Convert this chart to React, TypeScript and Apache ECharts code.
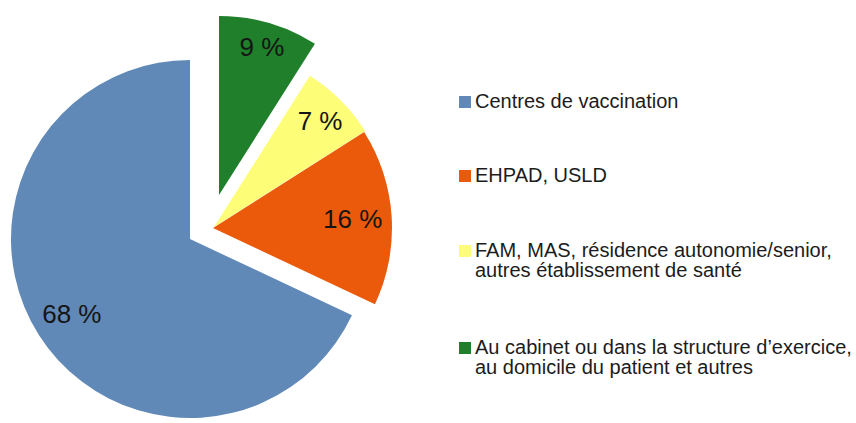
import { useEffect, useRef } from "react";
import * as echarts from "echarts";

// ---- data ----
const categories = [
  "Centres de vaccination",
  "EHPAD, USLD",
  "FAM, MAS, résidence autonomie/senior,\nautres établissement de santé",
  "Au cabinet ou dans la structure d’exercice,\nau domicile du patient et autres",
];
const shares = [68, 16, 7, 9];

// ---- styles / layout ----
const colors = ["#6189b7", "#eb5a0b", "#fdfd78", "#1f7f2a"];
const sliceCenters: [number, number][] = [
  [190, 239],
  [213, 228],
  [214, 227],
  [219, 195],
];
const labelRadius = [137, 137, 147, 151];
const R = 179;
const legendBaselines = [107, 181, 256, 353];
const FONT = '"Liberation Sans", Arial, sans-serif';

export default function App() {
  const ref = useRef<HTMLDivElement>(null);
  useEffect(() => {
    if (!ref.current) return;
    const chart = echarts.init(ref.current, undefined, { renderer: "svg" });

    const series: any[] = [];
    shares.forEach((_, i) => {
      const common = {
        type: "pie",
        center: sliceCenters[i],
        startAngle: 90,
        clockwise: false,
        silent: true,
        avoidLabelOverlap: false,
        minAngle: 0,
        emphasis: { disabled: true },
        labelLine: { show: false },
      };
      series.push({
        ...common,
        radius: [0, R],
        label: { show: false },
        itemStyle: { borderWidth: 0 },
        data: shares.map((v, j) => ({
          value: v,
          name: categories[j],
          itemStyle: { color: j === i ? colors[i] : "transparent", borderWidth: 0 },
        })),
      });
      series.push({
        ...common,
        radius: [2 * labelRadius[i] - R, R],
        itemStyle: { borderWidth: 0, color: "transparent" },
        data: shares.map((v, j) => ({
          value: v,
          name: categories[j],
          itemStyle: { color: "transparent", borderWidth: 0 },
          label: {
            show: j === i,
            position: "inside",
            formatter: "{c} %",
            color: "#151515",
            fontSize: 26,
            fontFamily: FONT,
          },
        })),
      });
    });

    const graphic: any[] = [];
    categories.forEach((name, i) => {
      const b = legendBaselines[i];
      graphic.push({
        type: "rect",
        shape: { x: 459, y: b - 11, width: 12, height: 12 },
        style: { fill: colors[i] },
        silent: true,
      });
      graphic.push({
        type: "text",
        x: 475,
        y: b - 16.2,
        style: {
          text: name,
          fill: "#1c1c1c",
          font: `20px ${FONT}`,
          lineHeight: 20,
          verticalAlign: "top",
          align: "left",
        },
        silent: true,
      });
    });

    chart.setOption({
      animation: false,
      backgroundColor: "#ffffff",
      series,
      graphic,
    });
    return () => chart.dispose();
  }, []);

  return (
    <div
      ref={ref}
      style={{ position: "fixed", left: 0, top: 0, width: 856, height: 423 }}
    />
  );
}
